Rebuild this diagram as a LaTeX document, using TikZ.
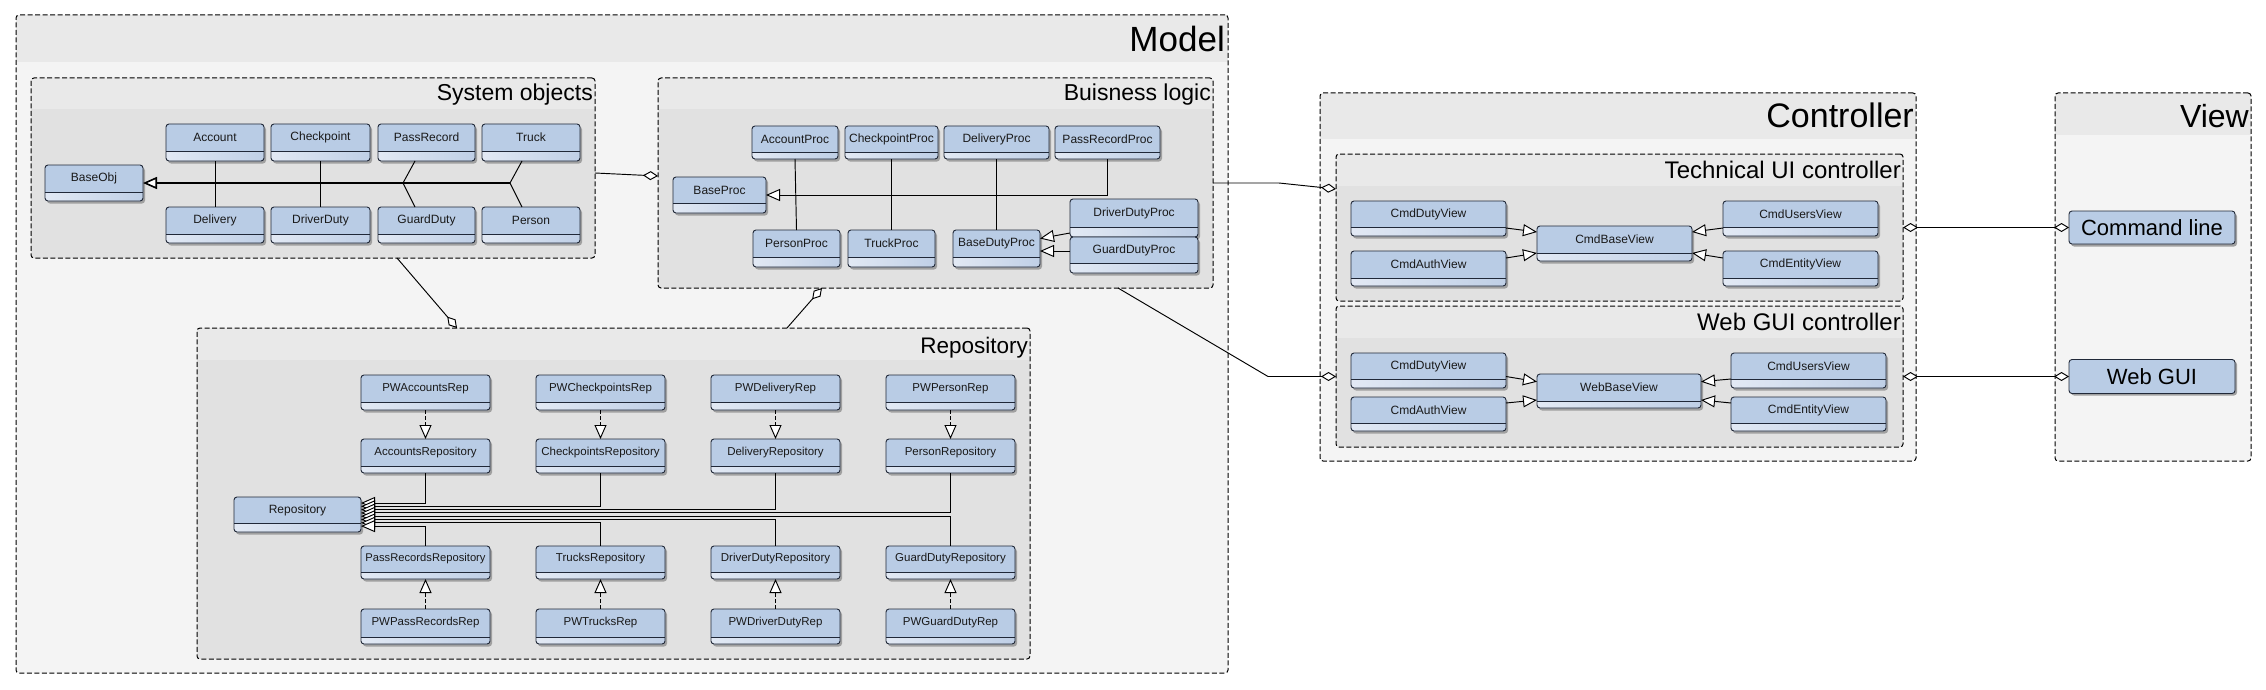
\documentclass[tikz,border=0pt]{standalone}
\usepackage{fontspec}
\setmainfont{Liberation Sans}
\usetikzlibrary{arrows.meta}
\definecolor{clsfill}{HTML}{B9CCE5}
\definecolor{lowl}{HTML}{E2E9F4}
\definecolor{lowr}{HTML}{BFCFE6}
\definecolor{clsborder}{HTML}{202838}
\definecolor{hdr}{HTML}{E9E9E9}
\definecolor{outerbody}{HTML}{F4F4F4}
\definecolor{innerbody}{HTML}{E1E1E1}
\definecolor{shadowc}{HTML}{A0A0A0}
\newcommand\fs[1]{\fontsize{#1}{#1}\selectfont}
\tikzset{
 clsnode/.style={draw=clsborder, line width=0.9pt, rounded corners=3pt, inner sep=0pt, outer sep=0pt, rectangle},
 pkgnode/.style={draw=black, line width=1pt, dash pattern=on 5pt off 2.5pt, rounded corners=3pt, inner sep=0pt, outer sep=0pt, rectangle},
 conn/.style={draw=black, line width=0.95pt},
 gen/.style={conn, -{Triangle[length=14pt,width=12pt,fill=white]}},
 real/.style={conn, dash pattern=on 4pt off 2pt, -{Triangle[length=14pt,width=12pt,fill=white]}},
 agg/.style={conn, -{Diamond[length=15pt,width=9pt,fill=white]}},
 aggboth/.style={conn, {Diamond[length=15pt,width=9pt,fill=white]}-{Diamond[length=15pt,width=9pt,fill=white]}},
 ptitle/.style={anchor=base east, inner sep=0pt, text=black},
 ctext/.style={inner sep=0pt, text=black!90},
}
% class: name, x1, y1, x2, y2, ysplit, text, fontsize
\newcommand\umlcls[8]{%
  \fill[shadowc, rounded corners=3pt] (#2+2,#3+2.5) rectangle (#4+2,#5+2.5);
  \fill[clsfill, rounded corners=3pt] (#2,#3) rectangle (#4,#5);
  \begin{scope}
    \clip[rounded corners=3pt] (#2,#3) rectangle (#4,#5);
    \shade[left color=lowl, right color=lowr] (#2,#6) rectangle (#4,#5);
  \end{scope}
  \draw[clsborder, line width=0.9pt] (#2,#6) -- (#4,#6);
  \node[clsnode, minimum width={#4-#2}, minimum height={#5-#3}] (#1) at ({(#2+#4)/2},{(#3+#5)/2}) {};
  \node[ctext, font=\fs{#8}] (#1-t) at ({(#2+#4)/2},{(#3+#6)/2}) {#7};
}
% package: name, x1, y1, x2, y2, yheader, bodycolor
\newcommand\umlpkg[7]{%
  \fill[#7, rounded corners=3pt] (#2,#3) rectangle (#4,#5);
  \begin{scope}
    \clip[rounded corners=3pt] (#2,#3) rectangle (#4,#5);
    \fill[hdr] (#2,#3) rectangle (#4,#6);
  \end{scope}
  \node[pkgnode, minimum width={#4-#2}, minimum height={#5-#3}] (#1) at ({(#2+#4)/2},{(#3+#5)/2}) {};
}
\begin{document}
\begin{tikzpicture}[x=1pt,y=-1pt]
\fill[white] (0,0) rectangle (2266,690);
\useasboundingbox (0,0) rectangle (2266,690);

% ---------- packages ----------
\umlpkg{model}{16}{15}{1228}{673}{62}{outerbody}
\umlpkg{controller}{1320}{93}{1916}{461}{139}{outerbody}
\umlpkg{view}{2055}{93}{2251}{461}{135}{outerbody}
\umlpkg{sysobj}{31}{78}{595}{258}{109}{innerbody}
\umlpkg{bizlogic}{658}{78}{1213}{288}{109}{innerbody}
\umlpkg{repo}{197}{328}{1030}{659}{360}{innerbody}
\umlpkg{techui}{1336}{154}{1903}{301}{186}{innerbody}
\umlpkg{webgui}{1336}{306}{1903}{447}{338}{innerbody}

\node[ptitle, font=\fs{35}] (model-title) at (1225,52) {Model};
\node[ptitle, font=\fs{23}] (sys-title) at (593,101) {System objects};
\node[ptitle, font=\fs{23}] (biz-title) at (1211,101) {Buisness logic};
\node[ptitle, font=\fs{22.5}] (repo-title) at (1028,353) {Repository};
\node[ptitle, font=\fs{34}] (ctrl-title) at (1914,128) {Controller};
\node[ptitle, font=\fs{24}] (tech-title) at (1901,178) {Technical UI controller};
\node[ptitle, font=\fs{24}] (web-title) at (1901,330.5) {Web GUI controller};
\node[ptitle, font=\fs{32}] (view-title) at (2249,128) {View};

% ---------- package connectors ----------
\draw[agg] ([yshift=-5pt]sysobj.east) -- ([yshift=7pt]bizlogic.west);
\draw[agg] ([xshift=84pt]sysobj.south) -- ([xshift=-156.5pt]repo.north);
\draw[agg] ([xshift=173.5pt]repo.north) -- ([xshift=-113.5pt]bizlogic.south);
\coordinate (k1) at (1279,183);
\draw[agg] (bizlogic.east) -- (k1) -- ([yshift=38.5pt]techui.west);
\coordinate (k2) at (1268,376.5);
\draw[agg] ([xshift=182.5pt]bizlogic.south) -- (k2) -- (webgui.west);

% ---------- System objects ----------
\umlcls{BaseObj}{45}{165}{143}{201}{192}{BaseObj}{12}
\umlcls{Account}{166}{124}{264}{161}{151}{Account}{12}
\umlcls{Checkpoint}{271}{124}{370}{161}{151}{Checkpoint}{12}
\umlcls{PassRecord}{378}{124}{475}{161}{151}{PassRecord}{12}
\umlcls{Truck}{482}{124}{580}{161}{151}{Truck}{12}
\umlcls{Delivery}{166}{207}{264}{243}{234}{Delivery}{12}
\umlcls{DriverDuty}{271}{207}{370}{243}{234}{DriverDuty}{12}
\umlcls{GuardDuty}{378}{207}{475}{243}{234}{GuardDuty}{12}
\umlcls{Person}{482}{207}{580}{243}{234}{Person}{12}
\coordinate (sj1) at (403,183);
\coordinate (sj2) at (510,183);
\draw[conn] (Account.south) -- (Delivery.north);
\draw[conn] (Checkpoint.south) -- (DriverDuty.north);
\draw[conn] ([xshift=-11.5pt]PassRecord.south) -- (sj1) -- ([xshift=-11.5pt]GuardDuty.north);
\draw[conn] ([xshift=-9pt]Truck.south) -- (sj2) -- ([xshift=-9pt]Person.north);
\draw[gen, line width=1.6pt] (sj2) -- (BaseObj.east);

% ---------- Business logic ----------
\umlcls{BaseProc}{673}{177}{766}{213}{203}{BaseProc}{12}
\umlcls{AccountProc}{752}{126}{838}{159}{152}{AccountProc}{12}
\umlcls{CheckpointProc}{845}{126}{938}{159}{152}{CheckpointProc}{12}
\umlcls{DeliveryProc}{944}{126}{1049}{159}{152}{DeliveryProc}{12}
\umlcls{PassRecordProc}{1055}{126}{1160}{159}{152}{PassRecordProc}{12}
\umlcls{PersonProc}{753}{230}{840}{267}{257}{PersonProc}{12}
\umlcls{TruckProc}{848}{230}{935}{267}{257}{TruckProc}{12}
\umlcls{BaseDutyProc}{953}{230}{1040}{267}{257}{BaseDutyProc}{12}
\umlcls{DriverDutyProc}{1070}{199}{1198}{237}{227}{DriverDutyProc}{12}
\umlcls{GuardDutyProc}{1070}{237}{1198}{273}{263}{GuardDutyProc}{12}
\draw[conn] (AccountProc.south) -- (PersonProc.north);
\draw[conn] (CheckpointProc.south) -- (TruckProc.north);
\draw[conn] (DeliveryProc.south) -- (BaseDutyProc.north);
\draw[gen] (PassRecordProc.south) |- (BaseProc.east);
\draw[gen] ([yshift=4pt]DriverDutyProc.south west) -- ([yshift=10pt]BaseDutyProc.east);
\draw[gen] ([yshift=4pt]GuardDutyProc.west) -- ([yshift=-2.5pt]BaseDutyProc.east);

% ---------- Repository ----------
\umlcls{Repository}{234}{497}{361}{532}{523}{Repository}{12}
\umlcls{PWAccountsRep}{361}{375}{490}{410}{402}{PWAccountsRep}{11.5}
\umlcls{PWCheckpointsRep}{536}{375}{665}{410}{402}{PWCheckpointsRep}{11.5}
\umlcls{PWDeliveryRep}{711}{375}{840}{410}{402}{PWDeliveryRep}{11.5}
\umlcls{PWPersonRep}{886}{375}{1015}{410}{402}{PWPersonRep}{11.5}
\umlcls{AccountsRepository}{361}{439}{490}{473}{466}{AccountsRepository}{11.5}
\umlcls{CheckpointsRepository}{536}{439}{665}{473}{466}{CheckpointsRepository}{11.5}
\umlcls{DeliveryRepository}{711}{439}{840}{473}{466}{DeliveryRepository}{11.5}
\umlcls{PersonRepository}{886}{439}{1015}{473}{466}{PersonRepository}{11.5}
\umlcls{PassRecordsRepository}{361}{546}{490}{579}{572}{PassRecordsRepository}{11.2}
\umlcls{TrucksRepository}{536}{546}{665}{579}{572}{TrucksRepository}{11.5}
\umlcls{DriverDutyRepository}{711}{546}{840}{579}{572}{DriverDutyRepository}{11.5}
\umlcls{GuardDutyRepository}{886}{546}{1015}{579}{572}{GuardDutyRepository}{11.5}
\umlcls{PWPassRecordsRep}{361}{609}{490}{644}{637}{PWPassRecordsRep}{11.5}
\umlcls{PWTrucksRep}{536}{609}{665}{644}{637}{PWTrucksRep}{11.5}
\umlcls{PWDriverDutyRep}{711}{609}{840}{644}{637}{PWDriverDutyRep}{11.5}
\umlcls{PWGuardDutyRep}{886}{609}{1015}{644}{637}{PWGuardDutyRep}{11.5}
\draw[real] (PWAccountsRep.south) -- (AccountsRepository.north);
\draw[real] (PWCheckpointsRep.south) -- (CheckpointsRepository.north);
\draw[real] (PWDeliveryRep.south) -- (DeliveryRepository.north);
\draw[real] (PWPersonRep.south) -- (PersonRepository.north);
\draw[real] (PWPassRecordsRep.north) -- (PassRecordsRepository.south);
\draw[real] (PWTrucksRep.north) -- (TrucksRepository.south);
\draw[real] (PWDriverDutyRep.north) -- (DriverDutyRepository.south);
\draw[real] (PWGuardDutyRep.north) -- (GuardDutyRepository.south);
\draw[gen] (AccountsRepository.south) |- ([yshift=11.5pt]Repository.east);
\draw[gen] (CheckpointsRepository.south) |- ([yshift=8.2pt]Repository.east);
\draw[gen] (DeliveryRepository.south) |- ([yshift=4.9pt]Repository.east);
\draw[gen] (PersonRepository.south) |- ([yshift=1.6pt]Repository.east);
\draw[gen] (GuardDutyRepository.north) |- ([yshift=-1.7pt]Repository.east);
\draw[gen] (DriverDutyRepository.north) |- ([yshift=-5pt]Repository.east);
\draw[gen] (TrucksRepository.north) |- ([yshift=-8.3pt]Repository.east);
\draw[gen] (PassRecordsRepository.north) |- ([yshift=-11.6pt]Repository.east);

% ---------- Technical UI controller ----------
\umlcls{cdv1}{1351}{201}{1506}{236}{227}{CmdDutyView}{12}
\umlcls{cav1}{1351}{251}{1506}{286}{278}{CmdAuthView}{12}
\umlcls{CmdBaseView}{1537}{226}{1692}{261}{253}{CmdBaseView}{12}
\umlcls{cuv1}{1723}{201}{1878}{236}{227}{CmdUsersView}{12}
\umlcls{cev1}{1723}{251}{1878}{286}{278}{CmdEntityView}{12}
\draw[gen] ([yshift=-9.5pt]cdv1.east) -- ([yshift=11.5pt]CmdBaseView.west);
\draw[gen] ([yshift=10.5pt]cav1.east) -- ([yshift=-9.5pt]CmdBaseView.west);
\draw[gen] ([yshift=-9.5pt]cuv1.west) -- ([yshift=11.5pt]CmdBaseView.east);
\draw[gen] ([yshift=10.5pt]cev1.west) -- ([yshift=-9.5pt]CmdBaseView.east);

% ---------- Web GUI controller ----------
\umlcls{cdv2}{1351}{353}{1506}{388}{379}{CmdDutyView}{12}
\umlcls{cav2}{1351}{397}{1506}{431}{423}{CmdAuthView}{12}
\umlcls{WebBaseView}{1537}{374}{1701}{408}{401}{WebBaseView}{12}
\umlcls{cuv2}{1731}{353}{1886}{388}{379}{CmdUsersView}{12}
\umlcls{cev2}{1731}{397}{1886}{431}{423}{CmdEntityView}{12}
\draw[gen] ([yshift=-6pt]cdv2.east) -- ([yshift=9.3pt]WebBaseView.west);
\draw[gen] ([yshift=11pt]cav2.east) -- ([yshift=-9pt]WebBaseView.west);
\draw[gen] ([yshift=-8.5pt]cuv2.west) -- ([yshift=9.3pt]WebBaseView.east);
\draw[gen] ([yshift=11pt]cev2.west) -- ([yshift=-9pt]WebBaseView.east);

% ---------- View ----------
\fill[shadowc, rounded corners=3pt] (2071,213.5) rectangle (2237,246.5);
\node[clsnode, fill=clsfill, minimum width=166, minimum height=33, font=\fs{22}] (cmdline) at (2152,227.5) {Command line};
\fill[shadowc, rounded corners=3pt] (2071,361.5) rectangle (2237,395.5);
\node[clsnode, fill=clsfill, minimum width=166, minimum height=34, font=\fs{22}] (webguiv) at (2152,376.5) {Web GUI};

\draw[aggboth] (techui.east) -- (cmdline.west);
\draw[aggboth] (webgui.east) -- (webguiv.west);
\end{tikzpicture}
\end{document}
